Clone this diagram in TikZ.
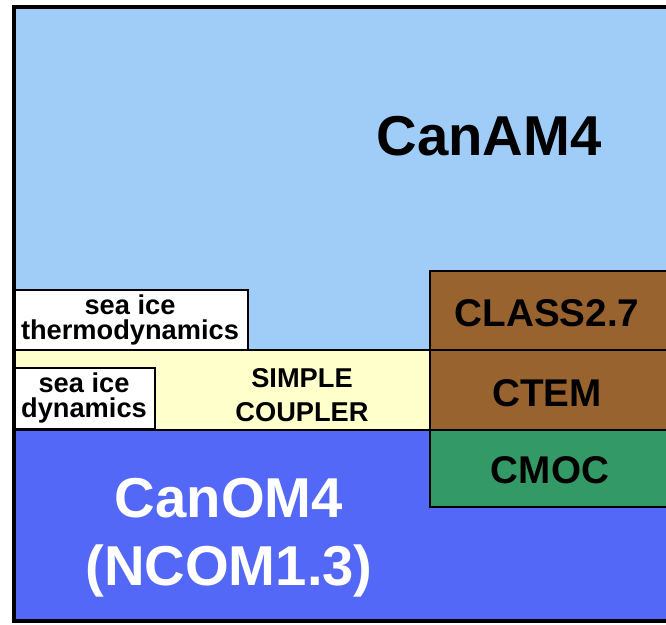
\documentclass[tikz,border=0pt]{standalone}
\usepackage{fontspec}
\setmainfont{Liberation Sans}
\definecolor{atmblue}{HTML}{A0CDF7}
\definecolor{cplyellow}{HTML}{FFFFCC}
\definecolor{ocnblue}{HTML}{5468F7}
\definecolor{lndbrown}{HTML}{99632F}
\definecolor{cmocgreen}{HTML}{339966}
\tikzset{
  comp/.style={draw=black, line width=1.3pt},
  small/.style={font=\fontsize{15.5}{14}\selectfont\bfseries, align=center, inner sep=0pt},
  mid/.style={font=\fontsize{22}{26}\selectfont\bfseries, align=center, inner sep=0pt},
  big/.style={font=\fontsize{32}{38.5}\selectfont\bfseries, align=center, inner sep=0pt}
}
\begin{document}
\begin{tikzpicture}[x=0.02cm, y=-0.02cm]
    \useasboundingbox (0,0) rectangle (666,625);

    % Atmosfera, acoplador y oceano
    \fill[atmblue] (14,7) rectangle (668,350);
    \draw[comp, fill=cplyellow] (14,350) rectangle (430,430);
    \draw[comp, fill=ocnblue] (14,430) rectangle (668,621);

    % Hielo marino
    \draw[comp, fill=white] (14,290) rectangle (248,350);
    \draw[comp, fill=white] (14,368) rectangle (155,429);

    % Superficie terrestre y carbono
    \draw[comp, fill=lndbrown] (430,271) rectangle (670,350);
    \draw[comp, fill=lndbrown] (430,350) rectangle (670,430);
    \draw[comp, fill=cmocgreen] (430,430) rectangle (670,507);

    % Marco
    \draw[line width=1.8pt] (14,7) rectangle (670,621);

    % Textos
    \node[big] (atm) at (489,136) {CanAM4};
    \node[big, text=white] (ocn) at (229,538) {CanOM4\\(NCOM1.3)};
    \node[small, font=\fontsize{15.5}{19.5}\selectfont\bfseries] (cpl) at (302,395) {SIMPLE\\COUPLER};
    \node[small] (thermo) at (130,320) {sea ice\\thermodynamics};
    \node[small] (dyn) at (84,398) {sea ice\\dynamics};
    \node[mid] (class) at (547,313) {CLASS2.7};
    \node[mid] (ctem) at (547,393) {CTEM};
    \node[mid] (cmoc) at (550,470) {CMOC};
\end{tikzpicture}
\end{document}
